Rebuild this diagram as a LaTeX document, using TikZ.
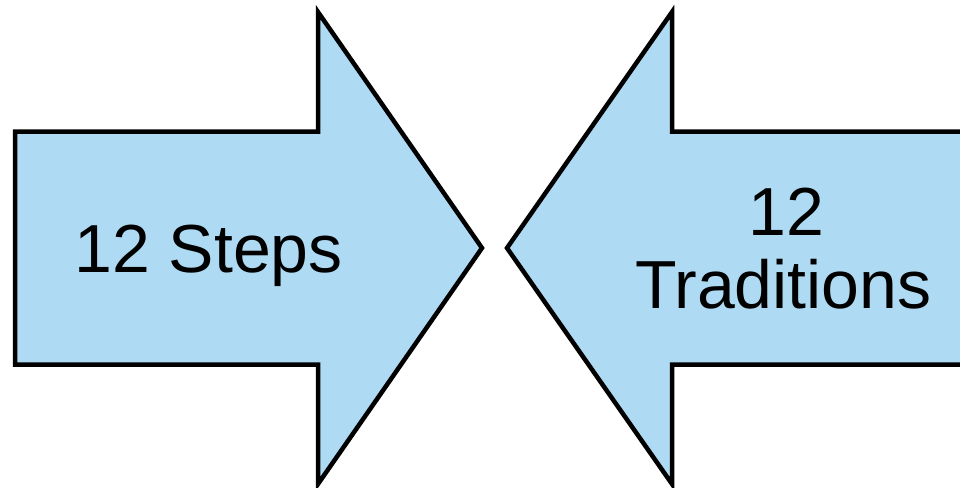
\documentclass[tikz,border=0pt]{standalone}
\usepackage{fontspec}
\setmainfont{Liberation Sans}
\definecolor{arrowblue}{RGB}{174,219,243}
\begin{document}
\begin{tikzpicture}[x=1pt,y=-1pt,
  bigarrow/.style={draw=black,fill=arrowblue,line width=4.5pt,line join=miter},
  label/.style={font=\fontsize{68}{73}\selectfont,inner sep=0pt,anchor=base}]
\useasboundingbox (0,0) rectangle (960,487);
\clip (0,0) rectangle (960,487);
% left arrow
\draw[bigarrow] (15,131.5) -- (318,131.5) -- (318,12) -- (482,248) -- (318,484) -- (318,364.5) -- (15,364.5) -- cycle;
% right arrow
\draw[bigarrow] (970,131.5) -- (672,131.5) -- (672,12) -- (507,248) -- (672,484) -- (672,364.5) -- (970,364.5) -- cycle;
\node[label] (steps) at (208.5,272) {12 Steps};
\node[label] (trad1) at (786,235) {12};
\node[label] (trad2) at (783.5,308) {Traditions};
\end{tikzpicture}
\end{document}
